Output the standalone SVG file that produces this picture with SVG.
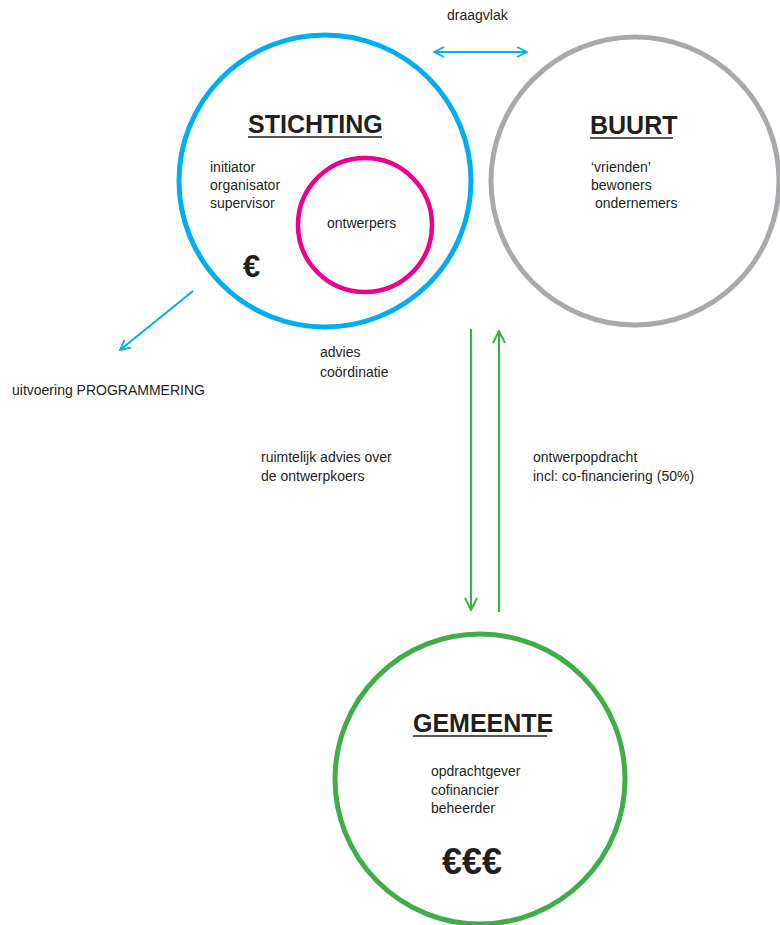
<svg xmlns="http://www.w3.org/2000/svg" width="780" height="925" viewBox="0 0 780 925">
<style>
.t{font-family:"Liberation Sans",Arial,sans-serif;font-size:14px;fill:#231f20}
.h{font-family:"Liberation Sans",Arial,sans-serif;font-size:25px;font-weight:bold;fill:#231f20}
.e{font-family:"Liberation Sans",Arial,sans-serif;font-weight:bold;fill:#231f20}
.ul{stroke:#231f20;stroke-width:1.5}
.blue{stroke:#00aeef;fill:none}
.green{stroke:#3fae49;fill:none}
</style>
<defs>
<marker id="ab" viewBox="0 0 12 12" refX="11" refY="6" markerWidth="12" markerHeight="12" markerUnits="userSpaceOnUse" orient="auto-start-reverse"><path d="M1,1 L11,6 L1,11" fill="none" stroke="#00aeef" stroke-width="1.8"/></marker>
<marker id="ag" viewBox="0 0 14 14" refX="13" refY="7" markerWidth="14" markerHeight="14" markerUnits="userSpaceOnUse" orient="auto"><path d="M1,1 L13,7 L1,13" fill="none" stroke="#3fae49" stroke-width="2"/></marker>
</defs>
<rect width="780" height="925" fill="#fff"/>
<g id="stichting">
<circle cx="325" cy="181" r="146" fill="none" stroke="#00aeef" stroke-width="5"/>
<text class="h" x="248" y="133">STICHTING</text>
<line class="ul" x1="248" y1="137" x2="382" y2="137"/>
<text class="t" x="210" y="172">initiator</text>
<text class="t" x="210" y="190">organisator</text>
<text class="t" x="210" y="208">supervisor</text>
<text class="e" x="243" y="277" font-size="31">€</text>
</g>
<g id="ontwerpers">
<circle cx="365" cy="225" r="67" fill="none" stroke="#ec008c" stroke-width="4.5"/>
<text class="t" x="327" y="228">ontwerpers</text>
</g>
<g id="buurt">
<circle cx="635" cy="181" r="144" fill="none" stroke="#a7a9ac" stroke-width="5"/>
<text class="h" x="590" y="134" font-size="24.5">BUURT</text>
<line class="ul" x1="590" y1="138" x2="673" y2="138"/>
<text class="t" x="591" y="172">‘vrienden’</text>
<text class="t" x="591" y="190">bewoners</text>
<text class="t" x="595" y="208">ondernemers</text>
</g>
<g id="gemeente">
<circle cx="480" cy="779" r="145" fill="none" stroke="#3fae49" stroke-width="5"/>
<text class="h" x="413" y="732" font-size="24.5">GEMEENTE</text>
<line class="ul" x1="413" y1="736" x2="547" y2="736"/>
<text class="t" x="431" y="776">opdrachtgever</text>
<text class="t" x="431" y="795">cofinancier</text>
<text class="t" x="431" y="813">beheerder</text>
<text class="e" x="442" y="874" font-size="36">€€€</text>
</g>
<g id="labels">
<text class="t" x="447" y="20">draagvlak</text>
<text class="t" x="12" y="395">uitvoering PROGRAMMERING</text>
<text class="t" x="320" y="357">advies</text>
<text class="t" x="320" y="377">coördinatie</text>
<text class="t" x="261" y="462">ruimtelijk advies over</text>
<text class="t" x="261" y="481">de ontwerpkoers</text>
<text class="t" x="533" y="462">ontwerpopdracht</text>
<text class="t" x="533" y="481">incl: co-financiering (50%)</text>
</g>
<g id="connectors">
<line class="blue" x1="434" y1="52" x2="527" y2="52" stroke-width="2" marker-start="url(#ab)" marker-end="url(#ab)"/>
<line class="blue" x1="193" y1="291" x2="120" y2="350" stroke-width="2" marker-end="url(#ab)"/>
<line class="green" x1="471" y1="329" x2="471" y2="610" stroke-width="2.2" marker-end="url(#ag)"/>
<line class="green" x1="499" y1="612" x2="499" y2="331" stroke-width="2.2" marker-end="url(#ag)"/>
</g>
</svg>
